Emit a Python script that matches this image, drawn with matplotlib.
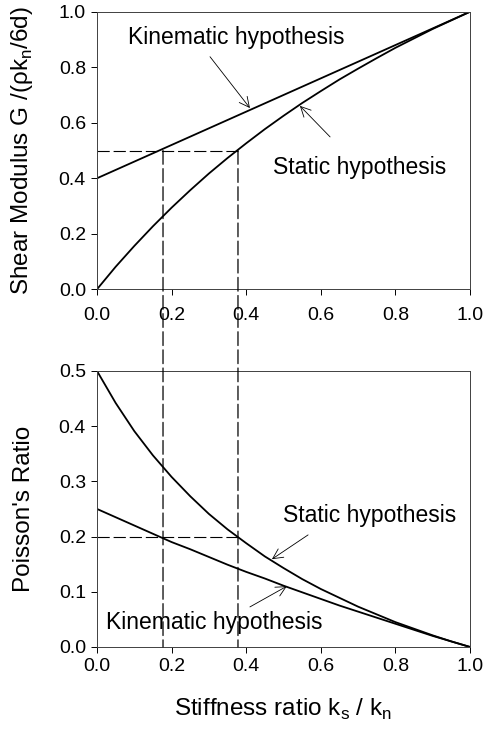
import matplotlib
matplotlib.use("Agg")
import matplotlib.pyplot as plt
from matplotlib.patches import ConnectionPatch

plt.rcParams['font.family'] = ['Liberation Sans', 'DejaVu Sans']
plt.rcParams['mathtext.fontset'] = 'custom'
plt.rcParams['mathtext.rm'] = 'Liberation Sans'

# stiffness ratio ks/kn
ratio = [0.0, 0.05, 0.1, 0.15, 0.2, 0.25, 0.3, 0.35, 0.4, 0.45, 0.5,
         0.55, 0.6, 0.65, 0.7, 0.75, 0.8, 0.85, 0.9, 0.95, 1.0]

# shear modulus (normalised)
g_kinematic = [0.40, 0.43, 0.46, 0.49, 0.52, 0.55, 0.58, 0.61, 0.64, 0.67, 0.70,
               0.73, 0.76, 0.79, 0.82, 0.85, 0.88, 0.91, 0.94, 0.97, 1.00]
g_static = [0.0, 0.081, 0.156, 0.227, 0.294, 0.357, 0.417, 0.473, 0.526, 0.577, 0.625,
            0.671, 0.714, 0.756, 0.795, 0.833, 0.870, 0.904, 0.938, 0.969, 1.0]

# poisson's ratio
nu_kinematic = [0.25, 0.235, 0.220, 0.205, 0.190, 0.177, 0.163, 0.149, 0.136, 0.124, 0.111,
                0.099, 0.087, 0.075, 0.064, 0.053, 0.042, 0.031, 0.020, 0.010, 0.0]
nu_static = [0.5, 0.442, 0.391, 0.347, 0.308, 0.273, 0.241, 0.213, 0.188, 0.164, 0.143,
             0.123, 0.105, 0.089, 0.073, 0.059, 0.045, 0.033, 0.021, 0.010, 0.0]

# reading guides
x_kin, x_sta = 0.177, 0.378
g_read, nu_read = 0.5, 0.2

ticks_x = [0.0, 0.2, 0.4, 0.6, 0.8, 1.0]
ticks_g = [0.0, 0.2, 0.4, 0.6, 0.8, 1.0]
ticks_nu = [0.0, 0.1, 0.2, 0.3, 0.4, 0.5]

fig = plt.figure(figsize=(4.85, 7.36), dpi=100)
ax1 = fig.add_axes([0.2, 0.607, 0.769, 0.377])
ax2 = fig.add_axes([0.2, 0.121, 0.769, 0.375])

lw = 1.3
dash = (11, 3.5)
fs_tick, fs_lab, fs_ann = 14, 17.5, 16.5

for ax in (ax1, ax2):
    ax.set_xlim(0, 1)
    ax.set_xticks(ticks_x)
    ax.set_xticklabels(["%.1f" % t for t in ticks_x])
    ax.tick_params(direction='out', length=4, width=0.7, labelsize=fs_tick, pad=4)
    for s in ax.spines.values():
        s.set_linewidth(0.7)
        s.set_color('0.25')
ax1.tick_params(axis='x', pad=9)

# top panel
ax1.plot(ratio, g_kinematic, color='k', lw=lw)
ax1.plot(ratio, g_static, color='k', lw=lw)
ax1.set_ylim(0, 1)
ax1.set_yticks(ticks_g)
ax1.set_yticklabels(["%.1f" % t for t in ticks_g])
ax1.plot([0, x_sta], [g_read, g_read], color='k', lw=0.8, dashes=dash)
ax1.set_ylabel(r"Shear Modulus G /(ρk$_\mathregular{n}$/6d)", fontsize=fs_lab)
ax1.yaxis.set_label_coords(-0.165, 0.5)

arrow = dict(arrowstyle='->', color='k', lw=0.6, shrinkA=0, shrinkB=0,
             mutation_scale=18)
ax1.text(0.083, 0.906, "Kinematic hypothesis", fontsize=fs_ann, va='center')
ax1.annotate("", xy=(0.41, 0.653), xytext=(0.303, 0.838), arrowprops=arrow)
ax1.text(0.472, 0.44, "Static hypothesis", fontsize=fs_ann, va='center')
ax1.annotate("", xy=(0.544, 0.661), xytext=(0.625, 0.549), arrowprops=arrow)

# bottom panel
ax2.plot(ratio, nu_static, color='k', lw=lw)
ax2.plot(ratio, nu_kinematic, color='k', lw=lw)
ax2.set_ylim(0, 0.5)
ax2.set_yticks(ticks_nu)
ax2.set_yticklabels(["%.1f" % t for t in ticks_nu])
ax2.plot([0, x_sta], [nu_read, nu_read], color='k', lw=0.8, dashes=dash)
ax2.set_ylabel("Poisson's Ratio", fontsize=fs_lab)
ax2.yaxis.set_label_coords(-0.165, 0.5)
ax2.set_xlabel(r"Stiffness ratio k$_\mathregular{s}$ / k$_\mathregular{n}$", fontsize=fs_lab, labelpad=16)

ax2.text(0.499, 0.239, "Static hypothesis", fontsize=fs_ann, va='center')
ax2.annotate("", xy=(0.469, 0.159), xytext=(0.566, 0.203), arrowprops=arrow)
ax2.text(0.024, 0.0435, "Kinematic hypothesis", fontsize=fs_ann, va='center')
ax2.annotate("", xy=(0.509, 0.110), xytext=(0.41, 0.0725), arrowprops=arrow)

# vertical guides spanning both panels
for xv in (x_kin, x_sta):
    con = ConnectionPatch(xyA=(xv, g_read), coordsA=ax1.transData,
                          xyB=(xv, 0), coordsB=ax2.transData,
                          edgecolor='k', lw=0.9, linestyle=(0, dash))
    fig.add_artist(con)

fig.savefig("out.png", dpi=100)
